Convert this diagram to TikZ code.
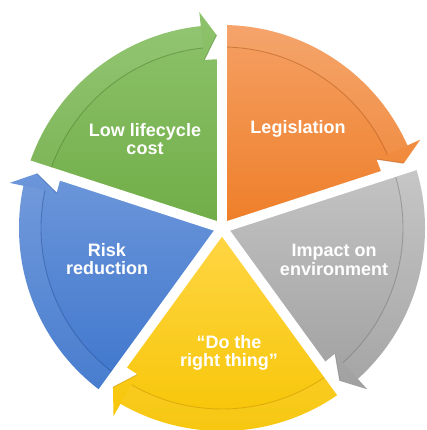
\documentclass[tikz,border=0pt]{standalone}
\usepackage{fontspec}
\setmainfont{Liberation Sans}
\usepackage{xcolor}
\definecolor{greenTop}{RGB}{142,195,108}
\definecolor{greenBot}{RGB}{112,173,71}
\definecolor{greenDark}{RGB}{70,120,40}
\definecolor{orangeTop}{RGB}{245,160,100}
\definecolor{orangeBot}{RGB}{238,126,40}
\definecolor{orangeDark}{RGB}{170,80,20}
\definecolor{grayTop}{RGB}{196,196,196}
\definecolor{grayBot}{RGB}{160,160,160}
\definecolor{grayDark}{RGB}{110,110,110}
\definecolor{yellowTop}{RGB}{255,214,70}
\definecolor{yellowBot}{RGB}{246,196,0}
\definecolor{yellowDark}{RGB}{190,140,0}
\definecolor{blueTop}{RGB}{108,150,218}
\definecolor{blueBot}{RGB}{62,118,204}
\definecolor{blueDark}{RGB}{35,75,150}

\tikzset{
  lbl/.style={text=white,font=\bfseries\fontsize{18}{18.5}\selectfont,align=center,inner sep=0pt},
  gap/.style={white,line width=10pt},
  rim/.style={line width=0.9pt,opacity=0.45},
  band/.style={white,opacity=0.05},
}

\begin{document}
\begin{tikzpicture}[x=1pt,y=1pt]
\useasboundingbox (0,0) rectangle (427,430);
\begin{scope}[shift={(222pt,202pt)}]
\shade[top color=greenTop,bottom color=greenBot] (0,0) -- (162:203pt) arc[start angle=162,end angle=96,radius=203pt] -- (96:217pt) -- (91.6:193pt) -- (96:169pt) -- (90:169pt) -- cycle;
\shade[top color=orangeTop,bottom color=orangeBot] (0,0) -- (90:203pt) arc[start angle=90,end angle=24,radius=203pt] -- (24:217pt) -- (19.6:193pt) -- (24:169pt) -- (18:169pt) -- cycle;
\shade[top color=grayTop,bottom color=grayBot] (0,0) -- (18:203pt) arc[start angle=18,end angle=-48,radius=203pt] -- (-48:217pt) -- (-52.4:193pt) -- (-48:169pt) -- (-54:169pt) -- cycle;
\shade[top color=yellowTop,bottom color=yellowBot] (0,0) -- (-54:203pt) arc[start angle=-54,end angle=-120,radius=203pt] -- (-120:217pt) -- (-124.4:193pt) -- (-120:169pt) -- (-126:169pt) -- cycle;
\shade[top color=blueTop,bottom color=blueBot] (0,0) -- (234:203pt) arc[start angle=234,end angle=168,radius=203pt] -- (168:217pt) -- (163.6:193pt) -- (168:169pt) -- (162:169pt) -- cycle;

\fill[band] (162:181pt) arc[start angle=162,end angle=96,radius=181pt] -- (96:203pt) arc[start angle=96,end angle=162,radius=203pt] -- cycle;
\fill[band] (90:181pt) arc[start angle=90,end angle=24,radius=181pt] -- (24:203pt) arc[start angle=24,end angle=90,radius=203pt] -- cycle;
\fill[band] (18:181pt) arc[start angle=18,end angle=-48,radius=181pt] -- (-48:203pt) arc[start angle=-48,end angle=18,radius=203pt] -- cycle;
\fill[band] (-54:181pt) arc[start angle=-54,end angle=-120,radius=181pt] -- (-120:203pt) arc[start angle=-120,end angle=-54,radius=203pt] -- cycle;
\fill[band] (234:181pt) arc[start angle=234,end angle=168,radius=181pt] -- (168:203pt) arc[start angle=168,end angle=234,radius=203pt] -- cycle;

\draw[rim,greenDark] (162:181pt) arc[start angle=162,end angle=96,radius=181pt] (96:169pt) -- (91.6:193pt);
\draw[rim,orangeDark] (90:181pt) arc[start angle=90,end angle=24,radius=181pt] (24:169pt) -- (19.6:193pt);
\draw[rim,grayDark] (18:181pt) arc[start angle=18,end angle=-48,radius=181pt] (-48:169pt) -- (-52.4:193pt);
\draw[rim,yellowDark] (-54:181pt) arc[start angle=-54,end angle=-120,radius=181pt] (-120:169pt) -- (-124.4:193pt);
\draw[rim,blueDark] (234:181pt) arc[start angle=234,end angle=168,radius=181pt] (168:169pt) -- (163.6:193pt);

\draw[gap] (0,0) -- (90:240pt);
\draw[gap] (0,0) -- (18:240pt);
\draw[gap] (0,0) -- (-54:240pt);
\draw[gap] (0,0) -- (-126:240pt);
\draw[gap] (0,0) -- (162:240pt);
\end{scope}

\node[lbl](cost) at (145,291) {Low lifecycle\\cost};
\node[lbl](legis) at (298,301) {Legislation};
\node[lbl](impact) at (334,170) {Impact on\\environment};
\node[lbl](risk) at (107,171) {Risk\\reduction};
\node[lbl](right) at (229,77) {“Do the\\right thing”};
\end{tikzpicture}
\end{document}
